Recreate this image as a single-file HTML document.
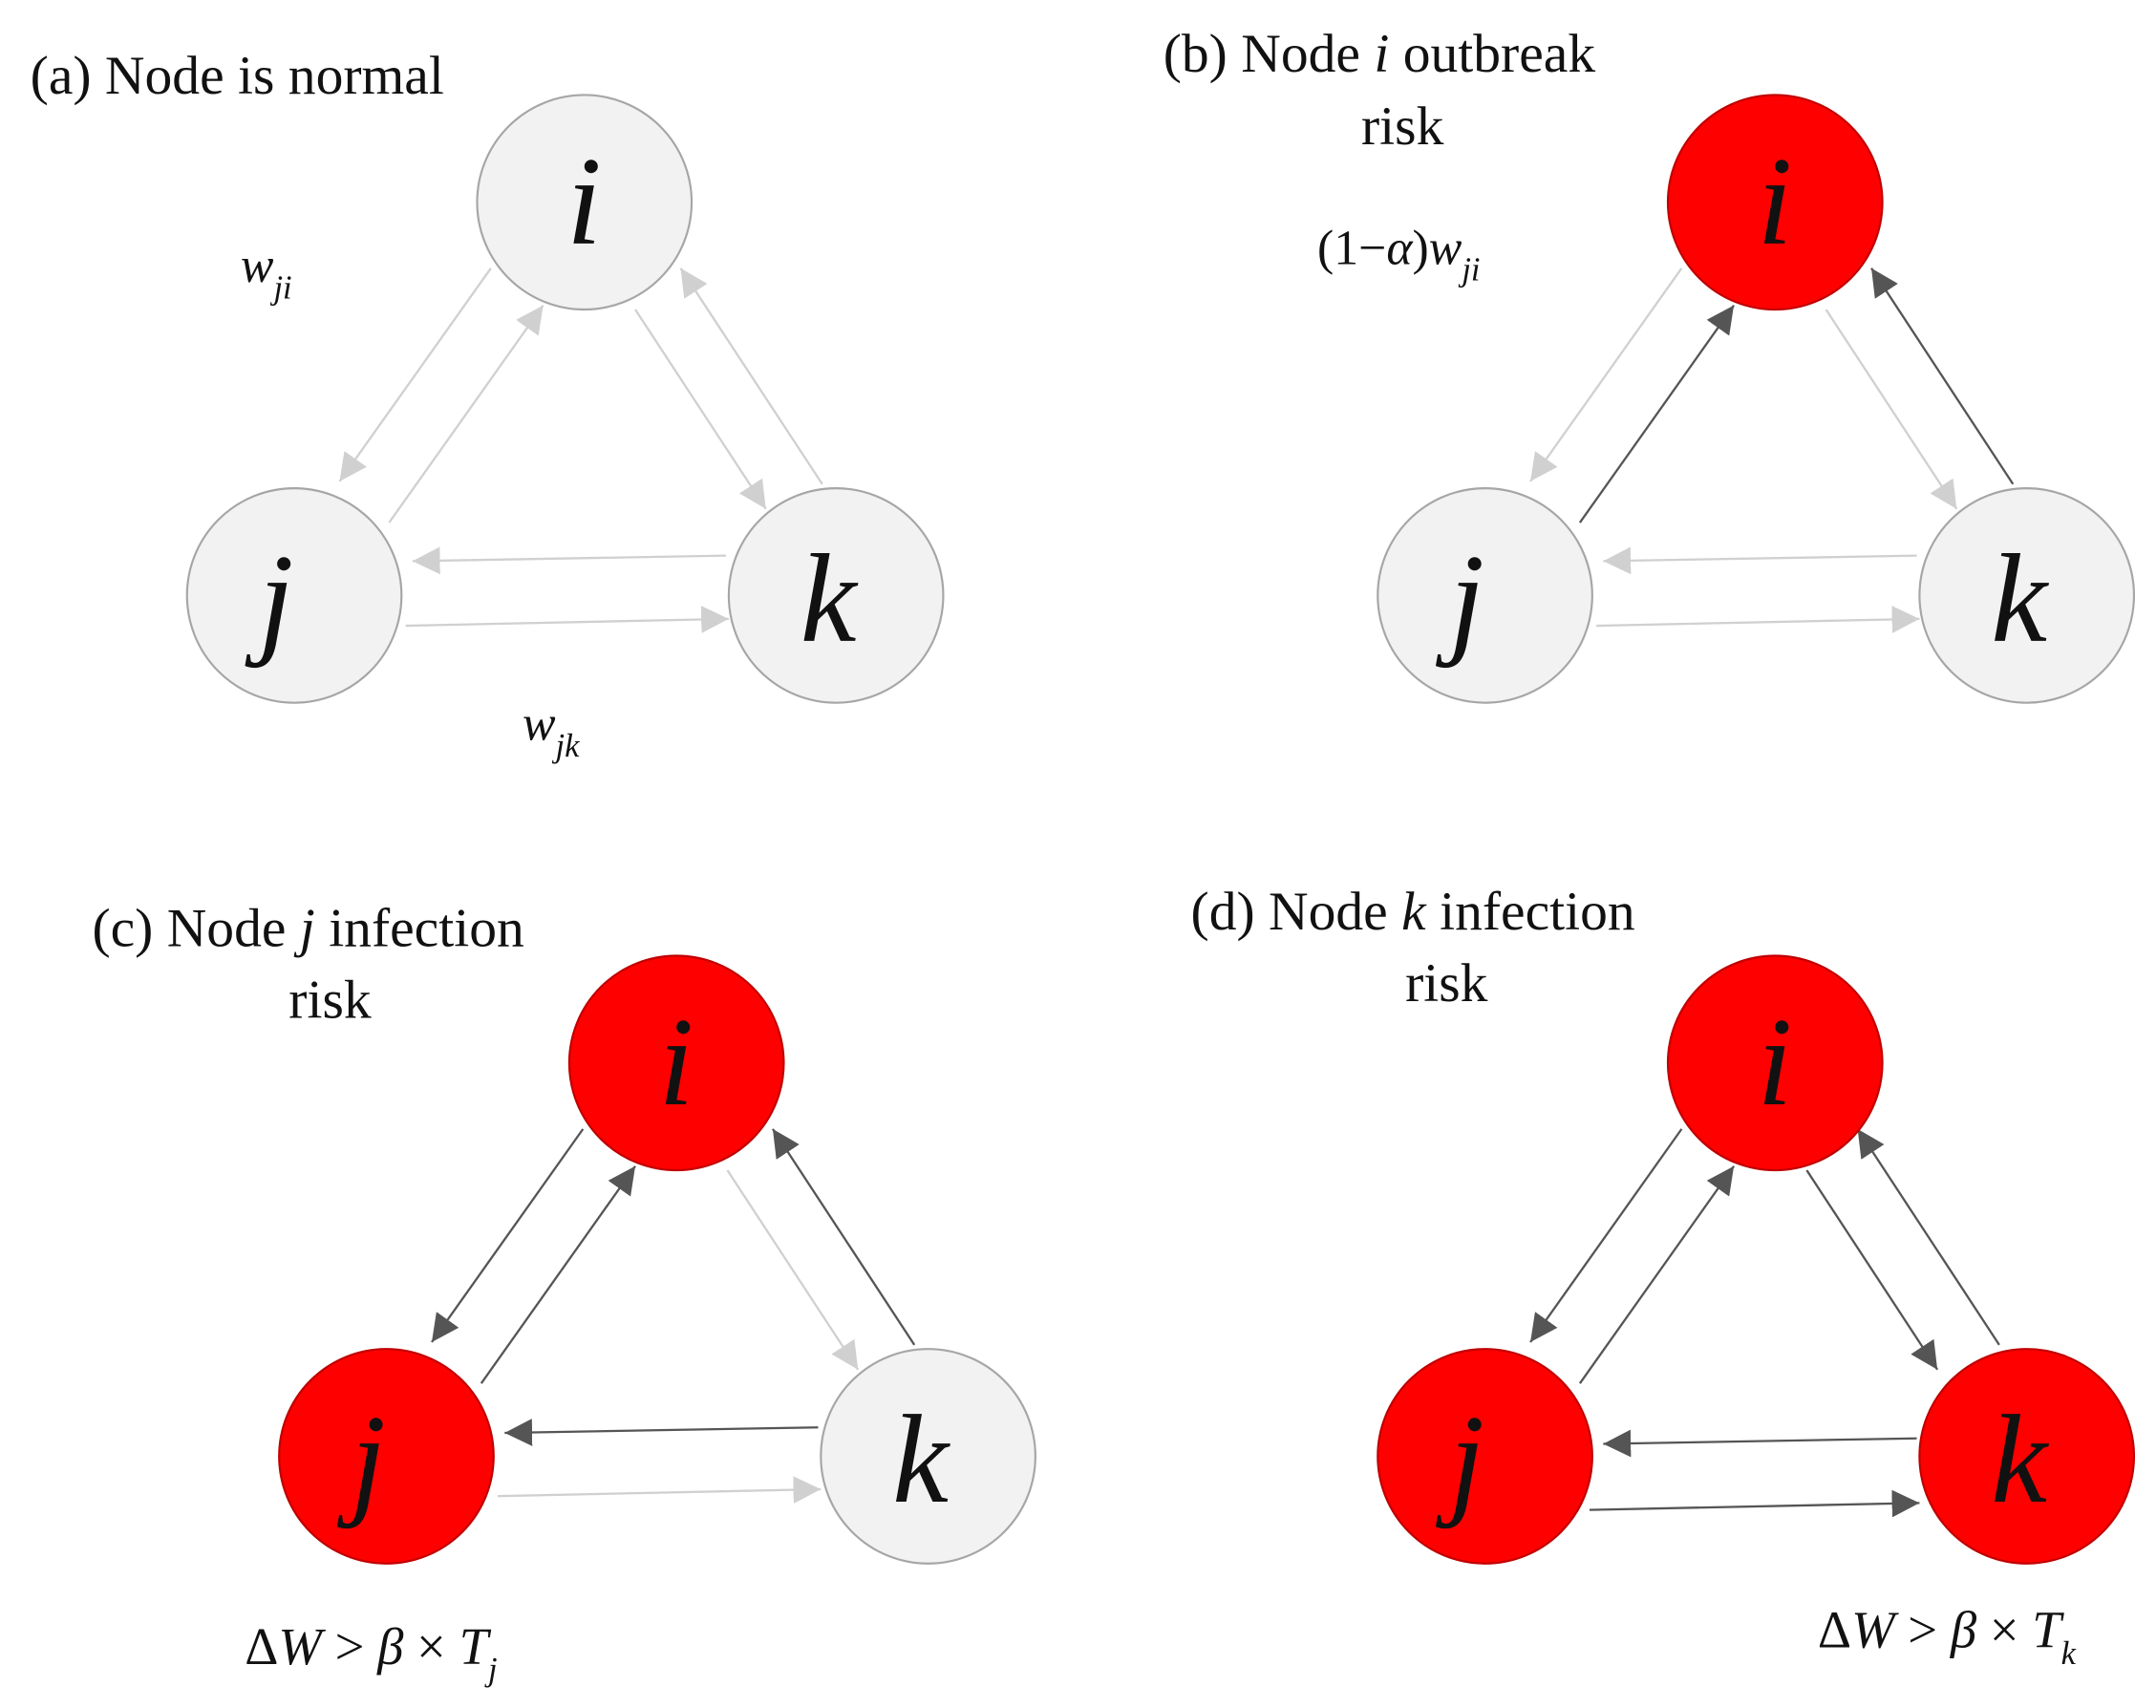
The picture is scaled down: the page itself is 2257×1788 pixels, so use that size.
<!DOCTYPE html>
<html><head><meta charset="utf-8"><style>
html,body{margin:0;padding:0;background:#fff;}
svg{display:block;}
text{font-family:"Liberation Serif",serif;fill:#111;}
</style></head><body>
<svg width="2257" height="1788" viewBox="0 0 1568 1242" xmlns="http://www.w3.org/2000/svg">
<defs>
<marker id="ml" viewBox="0 0 10 10" refX="10" refY="5" markerWidth="11" markerHeight="11" markerUnits="userSpaceOnUse" orient="auto"><path d="M0,0 L10,5 L0,10 z" fill="#d0d0d0"/></marker>
<marker id="md" viewBox="0 0 10 10" refX="10" refY="5" markerWidth="11" markerHeight="11" markerUnits="userSpaceOnUse" orient="auto"><path d="M0,0 L10,5 L0,10 z" fill="#555"/></marker>
<marker id="ml2" viewBox="0 0 10 10" refX="10" refY="5" markerWidth="20" markerHeight="20" markerUnits="userSpaceOnUse" orient="auto"><path d="M0,0 L10,5 L0,10 z" fill="#d0d0d0"/></marker>
<marker id="md2" viewBox="0 0 10 10" refX="10" refY="5" markerWidth="20" markerHeight="20" markerUnits="userSpaceOnUse" orient="auto"><path d="M0,0 L10,5 L0,10 z" fill="#555"/></marker>
<g id="e_ij"><line x1="357" y1="195" x2="247" y2="350"/></g>
</defs>

<!-- Panel generator by hand -->
<!-- (a) offset 0,0 -->
<g transform="translate(0,0)">
 <g stroke-width="1.6" fill="none">
  <line x1="357" y1="195" x2="247" y2="350" stroke="#d0d0d0" marker-end="url(#ml2)"/>
  <line x1="283" y1="380" x2="395" y2="222" stroke="#d0d0d0" marker-end="url(#ml2)"/>
  <line x1="462" y1="225" x2="557" y2="370" stroke="#d0d0d0" marker-end="url(#ml2)"/>
  <line x1="598" y1="352" x2="495" y2="195" stroke="#d0d0d0" marker-end="url(#ml2)"/>
  <line x1="528" y1="404" x2="300" y2="408" stroke="#d0d0d0" marker-end="url(#ml2)"/>
  <line x1="295" y1="455" x2="530" y2="450" stroke="#d0d0d0" marker-end="url(#ml2)"/>
 </g>
 <circle cx="425" cy="147" r="78" fill="#f2f2f2" stroke="#a6a6a6" stroke-width="1.5"/>
 <circle cx="214" cy="433" r="78" fill="#f2f2f2" stroke="#a6a6a6" stroke-width="1.5"/>
 <circle cx="608" cy="433" r="78" fill="#f2f2f2" stroke="#a6a6a6" stroke-width="1.5"/>
</g>
<text x="22" y="68" font-size="40">(a) Node is normal</text>
<text x="412" y="177" font-size="92" font-style="italic">i</text>
<text x="188" y="466" font-size="92" font-style="italic">j</text>
<text x="582" y="466" font-size="92" font-style="italic">k</text>
<text x="175" y="205" font-size="36" font-style="italic">w<tspan font-size="24" dy="12">ji</tspan></text>
<text x="380" y="538" font-size="36" font-style="italic">w<tspan font-size="24" dy="12">jk</tspan></text>

<!-- (b) offset 866,0 -->
<g transform="translate(866,0)">
 <g stroke-width="1.6" fill="none">
  <line x1="357" y1="195" x2="247" y2="350" stroke="#d0d0d0" marker-end="url(#ml2)"/>
  <line x1="283" y1="380" x2="395" y2="222" stroke="#555" marker-end="url(#md2)"/>
  <line x1="462" y1="225" x2="557" y2="370" stroke="#d0d0d0" marker-end="url(#ml2)"/>
  <line x1="598" y1="352" x2="495" y2="195" stroke="#555" marker-end="url(#md2)"/>
  <line x1="528" y1="404" x2="300" y2="408" stroke="#d0d0d0" marker-end="url(#ml2)"/>
  <line x1="295" y1="455" x2="530" y2="450" stroke="#d0d0d0" marker-end="url(#ml2)"/>
 </g>
 <circle cx="425" cy="147" r="78" fill="#ff0000" stroke="#c00000" stroke-width="1.5"/>
 <circle cx="214" cy="433" r="78" fill="#f2f2f2" stroke="#a6a6a6" stroke-width="1.5"/>
 <circle cx="608" cy="433" r="78" fill="#f2f2f2" stroke="#a6a6a6" stroke-width="1.5"/>
 <text x="412" y="177" font-size="92" font-style="italic">i</text>
 <text x="188" y="466" font-size="92" font-style="italic">j</text>
 <text x="582" y="466" font-size="92" font-style="italic">k</text>
</g>
<text x="846" y="52" font-size="40">(b) Node <tspan font-style="italic">i</tspan> outbreak</text>
<text x="1020" y="105" font-size="40" text-anchor="middle">risk</text>
<text x="958" y="192" font-size="36">(1−<tspan font-style="italic">α</tspan>)<tspan font-style="italic">w</tspan><tspan font-size="24" dy="12" font-style="italic">ji</tspan></text>

<!-- (c) offset 67,626 -->
<g transform="translate(67,626)">
 <g stroke-width="1.6" fill="none">
  <line x1="357" y1="195" x2="247" y2="350" stroke="#555" marker-end="url(#md2)"/>
  <line x1="283" y1="380" x2="395" y2="222" stroke="#555" marker-end="url(#md2)"/>
  <line x1="462" y1="225" x2="557" y2="370" stroke="#d0d0d0" marker-end="url(#ml2)"/>
  <line x1="598" y1="352" x2="495" y2="195" stroke="#555" marker-end="url(#md2)"/>
  <line x1="528" y1="412" x2="300" y2="416" stroke="#555" marker-end="url(#md2)"/>
  <line x1="295" y1="462" x2="530" y2="457" stroke="#d0d0d0" marker-end="url(#ml2)"/>
 </g>
 <circle cx="425" cy="147" r="78" fill="#ff0000" stroke="#c00000" stroke-width="1.5"/>
 <circle cx="214" cy="433" r="78" fill="#ff0000" stroke="#c00000" stroke-width="1.5"/>
 <circle cx="608" cy="433" r="78" fill="#f2f2f2" stroke="#a6a6a6" stroke-width="1.5"/>
 <text x="412" y="177" font-size="92" font-style="italic">i</text>
 <text x="188" y="466" font-size="92" font-style="italic">j</text>
 <text x="582" y="466" font-size="92" font-style="italic">k</text>
</g>
<text x="67" y="688" font-size="40">(c) Node <tspan font-style="italic">j</tspan> infection</text>
<text x="240" y="740" font-size="40" text-anchor="middle">risk</text>
<text x="178" y="1210" font-size="38">Δ<tspan font-style="italic">W</tspan> &gt; <tspan font-style="italic">β</tspan> × <tspan font-style="italic">T</tspan><tspan font-size="24" dy="12" font-style="italic">j</tspan></text>

<!-- (d) offset 866,626 -->
<g transform="translate(866,626)">
 <g stroke-width="1.6" fill="none">
  <line x1="357" y1="195" x2="247" y2="350" stroke="#555" marker-end="url(#md2)"/>
  <line x1="283" y1="380" x2="395" y2="222" stroke="#555" marker-end="url(#md2)"/>
  <line x1="448" y1="225" x2="543" y2="370" stroke="#555" marker-end="url(#md2)"/>
  <line x1="588" y1="352" x2="485" y2="195" stroke="#555" marker-end="url(#md2)"/>
  <line x1="528" y1="420" x2="300" y2="424" stroke="#555" marker-end="url(#md2)"/>
  <line x1="290" y1="472" x2="530" y2="467" stroke="#555" marker-end="url(#md2)"/>
 </g>
 <circle cx="425" cy="147" r="78" fill="#ff0000" stroke="#c00000" stroke-width="1.5"/>
 <circle cx="214" cy="433" r="78" fill="#ff0000" stroke="#c00000" stroke-width="1.5"/>
 <circle cx="608" cy="433" r="78" fill="#ff0000" stroke="#c00000" stroke-width="1.5"/>
 <text x="412" y="177" font-size="92" font-style="italic">i</text>
 <text x="188" y="466" font-size="92" font-style="italic">j</text>
 <text x="582" y="466" font-size="92" font-style="italic">k</text>
</g>
<text x="866" y="676" font-size="40">(d)  Node <tspan font-style="italic">k</tspan> infection</text>
<text x="1052" y="728" font-size="40" text-anchor="middle">risk</text>
<text x="1322" y="1198" font-size="38">Δ<tspan font-style="italic">W</tspan> &gt; <tspan font-style="italic">β</tspan> × <tspan font-style="italic">T</tspan><tspan font-size="24" dy="12" font-style="italic">k</tspan></text>
</svg>
</body></html>
